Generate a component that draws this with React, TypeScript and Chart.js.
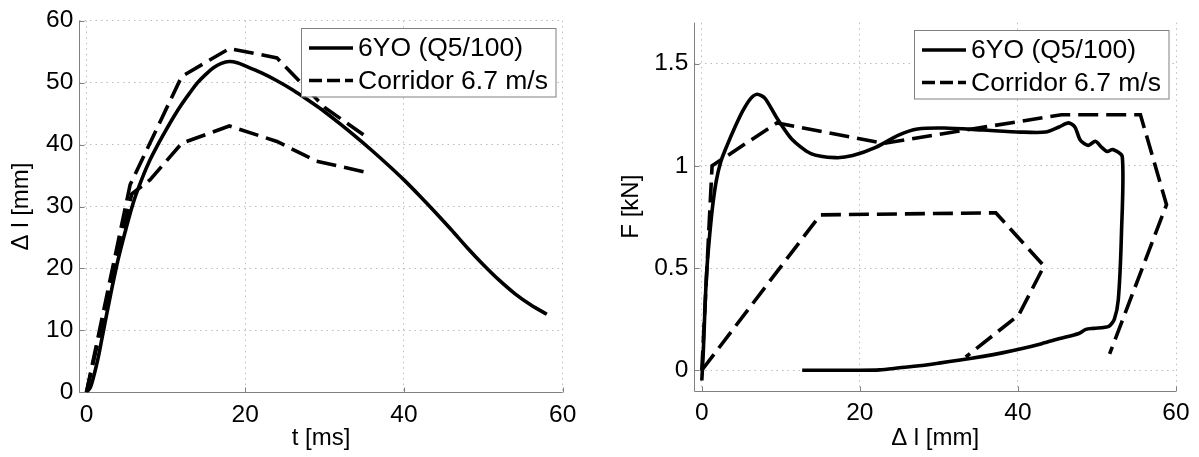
import React, { useEffect, useRef } from "react";
import { Chart, registerables } from "chart.js";

Chart.register(...registerables);

const FONT = '"Liberation Sans", Arial, Helvetica, sans-serif';

// ---------- Left chart: deflection vs time ----------
const leftXTicks = [0, 20, 40, 60];
const leftYTicks = [0, 10, 20, 30, 40, 50, 60];
const leftXTitle = "t [ms]";
const leftYTitle = "\u0394 l [mm]";

const solidT = [0, 0.5, 1, 1.5, 2, 3, 4, 5, 6, 7, 8, 9, 10, 11, 12, 13, 14, 15, 16, 17, 18, 19, 20, 22, 24, 26, 28, 30, 32, 34, 36, 38, 40, 42, 44, 46, 48, 50, 52, 54, 56, 58];
const solidDl = [0, 0.8, 3, 5.7, 9, 15.5, 21.5, 26.5, 31, 34.5, 37.5, 40, 42.3, 44.5, 46.5, 48.3, 50, 51.3, 52.4, 53.1, 53.4, 53.2, 52.7, 51.6, 50.3, 48.8, 47.1, 45.3, 43.3, 41.2, 39, 36.7, 34.3, 31.7, 29, 26.2, 23.3, 20.6, 18.1, 15.9, 14.1, 12.6];

const corrUpT = [0, 5.5, 12, 18, 24, 30, 35];
const corrUpDl = [0, 33.5, 51, 55.5, 54, 46, 41.5];
const corrLoT = [0, 5.7, 8, 12, 18, 24, 29, 35];
const corrLoDl = [0, 32, 34.3, 40.2, 43, 40.5, 37.3, 35.6];

// ---------- Right chart: force vs deflection ----------
const rightXTicks = [0, 20, 40, 60];
const rightYTicks = [0, 0.5, 1, 1.5];
const rightXTitle = "\u0394 l [mm]";
const rightYTitle = "F [kN]";

const fSolidDl = [0, 0.2, 0.45, 0.65, 0.9, 1.3, 1.8, 2.4, 3.2, 4.2, 5.2, 6.2, 7.0, 8.0, 9.4, 11.4, 13.8, 16.9, 19.1, 22, 24.9, 27.3, 30.7, 35.6, 40.4, 43.5, 45.2, 46.4, 47.2, 47.9, 48.9, 49.8, 50.6, 51.3, 52, 53.2, 53.1, 52.7, 52.2, 51.5, 49.6, 48.6, 47.7, 45.3, 43, 40.4, 38, 35.6, 32.7, 30, 27.5, 25, 22.5, 20, 12.7];
const fSolidF = [-0.05, 0.1, 0.35, 0.5, 0.62, 0.78, 0.92, 1.02, 1.1, 1.19, 1.27, 1.33, 1.35, 1.33, 1.24, 1.13, 1.06, 1.04, 1.05, 1.09, 1.15, 1.18, 1.185, 1.175, 1.165, 1.165, 1.19, 1.21, 1.19, 1.125, 1.1, 1.12, 1.09, 1.07, 1.08, 1.045, 0.67, 0.345, 0.25, 0.215, 0.205, 0.2, 0.18, 0.155, 0.13, 0.105, 0.085, 0.068, 0.05, 0.035, 0.022, 0.012, 0.002, 0, 0];

const fOuterDl = [0, 1.3, 9.5, 23, 45.5, 55.5, 58.8, 51.6];
const fOuterF = [0, 1.0, 1.21, 1.11, 1.25, 1.25, 0.81, 0.08];
const fInnerDl = [0, 15, 37.2, 43.3, 40.1, 33.4];
const fInnerF = [0, 0.76, 0.77, 0.51, 0.27, 0.065];

const legendLabels = ["6YO (Q5/100)", "Corridor 6.7 m/s"];

const pts = (xs: number[], ys: number[]) => xs.map((x, i) => ({ x, y: ys[i] }));

const matlabPlugin = {
  id: "matlabAxes",
  beforeDatasetsDraw(chart: any) {
    const { ctx, chartArea: a, scales } = chart;
    ctx.save();
    ctx.strokeStyle = "#808080";
    ctx.lineWidth = 1;
    ctx.setLineDash([]);
    ctx.beginPath();
    const lx = Math.round(a.left) + 0.5;
    const by = Math.round(a.bottom) + 0.5;
    ctx.moveTo(lx, a.top);
    ctx.lineTo(lx, by);
    ctx.lineTo(a.right, by);
    for (const t of scales.x.ticks) {
      const px = Math.round(scales.x.getPixelForValue(t.value)) + 0.5;
      ctx.moveTo(px, by);
      ctx.lineTo(px, by - 5);
    }
    for (const t of scales.y.ticks) {
      const py = Math.round(scales.y.getPixelForValue(t.value)) + 0.5;
      ctx.moveTo(lx, py);
      ctx.lineTo(lx + 5, py);
    }
    ctx.stroke();
    ctx.restore();
  },
  afterDraw(chart: any) {
    const { ctx, chartArea: a } = chart;
    const w = 254.5;
    const h = 68.5;
    const x0 = Math.round(a.right - 7.5 - w);
    const y0 = Math.round(a.top + 7);
    ctx.save();
    ctx.fillStyle = "#ffffff";
    ctx.fillRect(x0, y0, w, h);
    ctx.strokeStyle = "#808080";
    ctx.lineWidth = 1;
    ctx.setLineDash([]);
    ctx.strokeRect(x0 + 0.5, y0 + 0.5, w, h);
    const rows = [
      { label: legendLabels[0], dash: [] as number[], cy: y0 + 20 },
      { label: legendLabels[1], dash: [13, 5], cy: y0 + 52.5 },
    ];
    for (const r of rows) {
      ctx.strokeStyle = "#000";
      ctx.lineWidth = 3.5;
      ctx.setLineDash(r.dash);
      ctx.beginPath();
      ctx.moveTo(x0 + 8, r.cy);
      ctx.lineTo(x0 + 52, r.cy);
      ctx.stroke();
      ctx.setLineDash([]);
      ctx.fillStyle = "#000";
      ctx.font = `26.5px ${FONT}`;
      ctx.textBaseline = "middle";
      ctx.textAlign = "left";
      ctx.fillText(r.label, x0 + 57, r.cy + 1);
    }
    ctx.restore();
  },
};

type Cfg = {
  datasets: any[];
  xMin: number; xMax: number; yMin: number; yMax: number;
  xTicks: number[]; yTicks: number[];
  xTitle: string; yTitle: string;
  padLeft: number; padRight: number; padTop: number;
  yWidth: number; xHeight: number;
};

function makeScale(axis: "x" | "y", c: Cfg) {
  const isX = axis === "x";
  const ticks = isX ? c.xTicks : c.yTicks;
  return {
    type: "linear",
    min: isX ? c.xMin : c.yMin,
    max: isX ? c.xMax : c.yMax,
    afterBuildTicks: (s: any) => {
      s.ticks = ticks.map((v) => ({ value: v }));
    },
    afterFit: (s: any) => {
      if (isX) s.height = c.xHeight;
      else s.width = c.yWidth;
    },
    ticks: {
      font: { family: FONT, size: 24.5 },
      color: "#000",
      padding: isX ? 8 : 6,
      maxRotation: 0,
      autoSkip: false,
      callback: (v: any) => String(v),
    },
    grid: { color: "#bdbdbd", lineWidth: 1, drawTicks: false },
    border: { display: false, dash: [1.5, 4] },
    title: {
      display: true,
      text: isX ? c.xTitle : c.yTitle,
      color: "#000",
      font: { family: FONT, size: 24 },
      padding: isX ? { top: 0, bottom: 4.6 } : { top: 6.6, bottom: 0 },
    },
  };
}

function ChartBox({ cfg, left, width }: { cfg: Cfg; left: number; width: number }) {
  const ref = useRef<HTMLCanvasElement | null>(null);
  useEffect(() => {
    if (!ref.current) return;
    const chart = new Chart(ref.current, {
      type: "scatter",
      data: { datasets: cfg.datasets },
      options: {
        animation: false,
        responsive: false,
        maintainAspectRatio: false,
        layout: { padding: { left: cfg.padLeft, right: cfg.padRight, top: cfg.padTop, bottom: 0 } },
        plugins: { legend: { display: false }, tooltip: { enabled: false } },
        scales: { x: makeScale("x", cfg) as any, y: makeScale("y", cfg) as any },
      },
      plugins: [matlabPlugin as any],
    });
    return () => chart.destroy();
  }, []);
  return (
    <canvas
      ref={ref}
      width={width}
      height={457}
      style={{ position: "absolute", left, top: 0, width, height: 457 }}
    />
  );
}

const solidStyle = { showLine: true, pointRadius: 0, borderColor: "#000", borderWidth: 3.6, tension: 0.3, fill: false };
const dashStyle = { showLine: true, pointRadius: 0, borderColor: "#000", borderWidth: 3.6, tension: 0, borderDash: [20, 8], fill: false };

const leftCfg: Cfg = {
  datasets: [
    { label: legendLabels[0], data: pts(solidT, solidDl), ...solidStyle },
    { label: legendLabels[1], data: pts(corrUpT, corrUpDl), ...dashStyle },
    { label: legendLabels[1], data: pts(corrLoT, corrLoDl), ...dashStyle },
  ],
  xMin: -0.9, xMax: 60, yMin: 0, yMax: 60,
  xTicks: leftXTicks, yTicks: leftYTicks,
  xTitle: leftXTitle, yTitle: leftYTitle,
  padLeft: 0, padRight: 37.3, padTop: 20.7,
  yWidth: 79.3, xHeight: 64.7,
};

const rightCfg: Cfg = {
  datasets: [
    { label: legendLabels[0], data: pts(fSolidDl, fSolidF), ...solidStyle, tension: 0.25 },
    { label: legendLabels[1], data: pts(fOuterDl, fOuterF), ...dashStyle },
    { label: legendLabels[1], data: pts(fInnerDl, fInnerF), ...dashStyle },
  ],
  xMin: -0.95, xMax: 60, yMin: -0.1, yMax: 1.7,
  xTicks: rightXTicks, yTicks: rightYTicks,
  xTitle: rightXTitle, yTitle: rightYTitle,
  padLeft: 10.7, padRight: 23, padTop: 22.7,
  yWidth: 83.6, xHeight: 66.3,
};

export default function App() {
  return (
    <div style={{ position: "absolute", left: 0, top: 0, width: 1199, height: 457, background: "#fff", overflow: "hidden" }}>
      <ChartBox cfg={leftCfg} left={0} width={600} />
      <ChartBox cfg={rightCfg} left={600} width={599} />
    </div>
  );
}
